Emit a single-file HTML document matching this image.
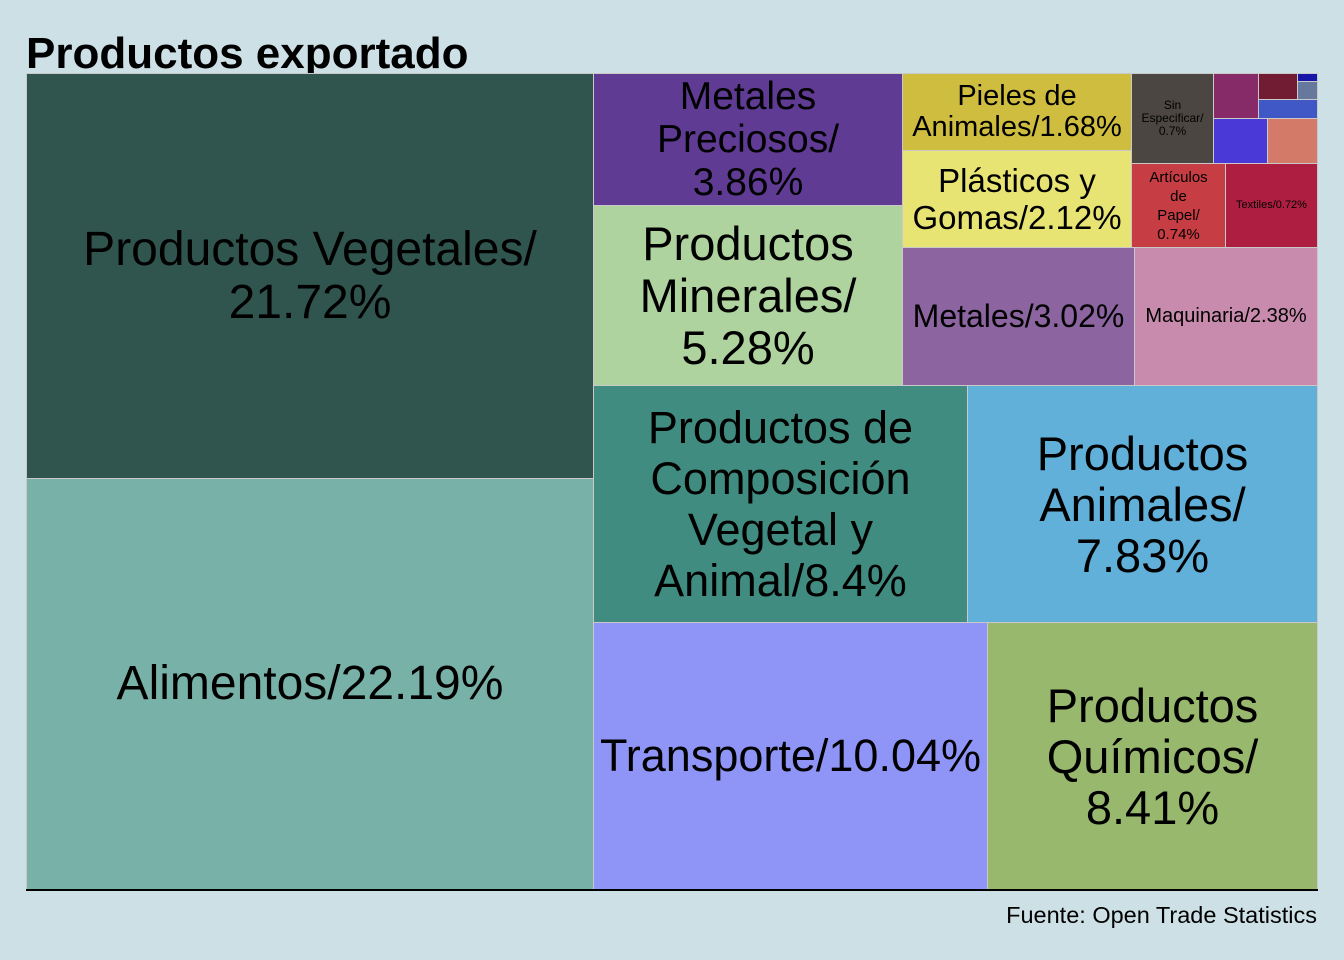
<!DOCTYPE html>
<html><head><meta charset="utf-8"><style>
body{margin:0;width:1344px;height:960px;background:#cde0e6;position:relative;font-family:"Liberation Sans",Arial,sans-serif;overflow:hidden}
.b{position:absolute;box-sizing:border-box;border:1px solid #c9c9c9;display:flex;align-items:center;justify-content:center;text-align:center;color:#000;line-height:1.12;white-space:nowrap}
</style></head><body>
<div style="position:absolute;left:26px;top:29px;font-size:44px;font-weight:bold;line-height:50px">Productos exportado</div>
<div class="b" style="left:26px;top:73px;width:568px;height:406px;background:#30554f;font-size:48px;line-height:53px">Productos Vegetales/<br>21.72%</div>
<div class="b" style="left:26px;top:478px;width:568px;height:412px;background:#78b1a8;font-size:48px">Alimentos/22.19%</div>
<div class="b" style="left:593px;top:73px;width:310px;height:133px;background:#5f3b94;font-size:39px;line-height:43px">Metales<br>Preciosos/<br>3.86%</div>
<div class="b" style="left:593px;top:205px;width:310px;height:181px;background:#afd39f;font-size:47px;line-height:52px">Productos<br>Minerales/<br>5.28%</div>
<div class="b" style="left:902px;top:73px;width:230px;height:78px;background:#cfbd3f;font-size:29px;line-height:31px">Pieles de<br>Animales/1.68%</div>
<div class="b" style="left:902px;top:150px;width:230px;height:98px;background:#e8e474;font-size:33px;line-height:37px">Plásticos y<br>Gomas/2.12%</div>
<div class="b" style="left:902px;top:247px;width:233px;height:139px;background:#8c64a0;font-size:32px">Metales/3.02%</div>
<div class="b" style="left:1134px;top:247px;width:184px;height:139px;background:#c88bad;font-size:20px">Maquinaria/2.38%</div>
<div class="b" style="left:1131px;top:73px;width:83px;height:91px;background:#4b4641;font-size:12px;line-height:13px">Sin<br>Especificar/<br>0.7%</div>
<div class="b" style="left:1213px;top:73px;width:46px;height:46px;background:#862a68"></div>
<div class="b" style="left:1258px;top:73px;width:40px;height:27px;background:#721c34"></div>
<div class="b" style="left:1297px;top:73px;width:21px;height:9px;background:#1616a8"></div>
<div class="b" style="left:1297px;top:81px;width:21px;height:19px;background:#66789c"></div>
<div class="b" style="left:1258px;top:99px;width:60px;height:20px;background:#3f58c6"></div>
<div class="b" style="left:1213px;top:118px;width:55px;height:46px;background:#4a39d6"></div>
<div class="b" style="left:1267px;top:118px;width:51px;height:46px;background:#d47a68"></div>
<div class="b" style="left:1131px;top:163px;width:95px;height:85px;background:#c63d43;font-size:15px;line-height:19px">Artículos<br>de<br>Papel/<br>0.74%</div>
<div class="b" style="left:1225px;top:163px;width:93px;height:85px;background:#ae1e40;font-size:11px">Textiles/0.72%</div>
<div class="b" style="left:593px;top:385px;width:375px;height:238px;background:#418c80;font-size:45px;line-height:51px">Productos de<br>Composición<br>Vegetal y<br>Animal/8.4%</div>
<div class="b" style="left:967px;top:385px;width:351px;height:238px;background:#60b0da;font-size:47px;line-height:51px">Productos<br>Animales/<br>7.83%</div>
<div class="b" style="left:593px;top:622px;width:395px;height:268px;background:#8f95f7;font-size:45px">Transporte/10.04%</div>
<div class="b" style="left:987px;top:622px;width:331px;height:268px;background:#98b86e;font-size:47px;line-height:51px">Productos<br>Químicos/<br>8.41%</div>
<div style="position:absolute;left:26px;top:889px;width:1292px;height:2px;background:#000"></div>
<div style="position:absolute;right:27px;top:902px;font-size:23.5px">Fuente: Open Trade Statistics</div>
</body></html>
